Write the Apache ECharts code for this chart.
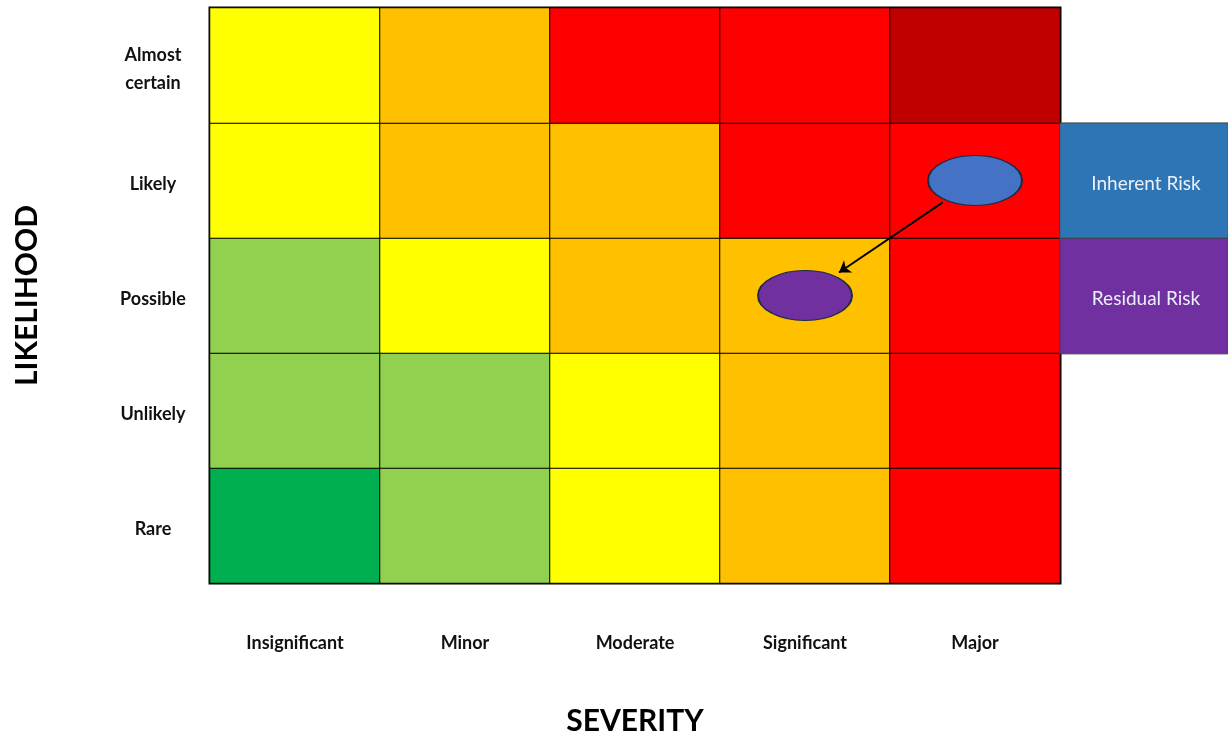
<!DOCTYPE html>
<html>
<head>
<meta charset="utf-8">
<script src="https://cdn.jsdelivr.net/npm/echarts@6/dist/echarts.min.js"></script>
<style>
html,body{margin:0;padding:0;background:#fff;}
#chart{width:1228px;height:741px;}
</style>
</head>
<body>
<div id="chart"></div>
<script>
// ---- data ----
const severityLabels = ['Insignificant', 'Minor', 'Moderate', 'Significant', 'Major'];
const likelihoodLabels = ['Rare', 'Unlikely', 'Possible', 'Likely', 'Almost certain'];
// risk level per cell (1 = lowest ... 6 = extreme), columns follow severityLabels
const rareLevels = [1, 2, 3, 4, 5];
const unlikelyLevels = [2, 2, 3, 4, 5];
const possibleLevels = [2, 3, 4, 4, 5];
const likelyLevels = [3, 4, 4, 5, 5];
const almostCertainLevels = [3, 4, 5, 5, 6];
const inherentRisk = ['Major', 'Likely'];
const residualRisk = ['Significant', 'Possible'];
const legendNames = ['Inherent Risk', 'Residual Risk'];

// ---- styling ----
const levelColors = {1: '#00B050', 2: '#92D050', 3: '#FFFF00', 4: '#FFC000', 5: '#FF0000', 6: '#C00000'};
const FONT = 'Lato, "Open Sans", sans-serif';

const levelRows = [rareLevels, unlikelyLevels, possibleLevels, likelyLevels, almostCertainLevels];
const heatData = [];
levelRows.forEach((row, r) => {
  row.forEach((lv, c) => {
    heatData.push({value: [c, r, lv], itemStyle: {color: levelColors[lv]}});
  });
});

const centerOf = p => [severityLabels.indexOf(p[0]) + 0.5, likelihoodLabels.indexOf(p[1]) + 0.5];
const a = centerOf(inherentRisk), b = centerOf(residualRisk);
const lerp = t => [a[0] + (b[0] - a[0]) * t, a[1] + (b[1] - a[1]) * t];
const arrowCoords = [lerp(0.19), lerp(0.8)];

const chart = echarts.init(document.getElementById('chart'));
chart.setOption({
  animation: false,
  backgroundColor: '#fff',
  grid: [
    {left: 210, top: 8, width: 850, height: 576, show: true, borderColor: '#000', borderWidth: 3, backgroundColor: 'transparent'},
    {left: 1060, top: 8, width: 168, height: 576, show: false}
  ],
  xAxis: [
    {type: 'category', gridIndex: 0, data: severityLabels,
     axisLine: {show: false}, axisTick: {show: false}, splitLine: {show: false},
     axisLabel: {margin: 51, fontSize: 18, fontWeight: 'bold', color: '#111', fontFamily: FONT},
     name: 'SEVERITY', nameLocation: 'middle', nameGap: 123,
     nameTextStyle: {fontSize: 30, fontWeight: 'bold', color: '#000', fontFamily: FONT}},
    {type: 'value', gridIndex: 0, min: 0, max: 5, show: false},
    {type: 'category', gridIndex: 1, data: ['legend'], show: false}
  ],
  yAxis: [
    {type: 'category', gridIndex: 0, data: likelihoodLabels,
     axisLine: {show: false}, axisTick: {show: false}, splitLine: {show: false},
     axisLabel: {margin: 57, align: 'center', color: '#111',
       formatter: v => v.split(' ').map(w => '{t|' + w + '}').join('\n'),
       rich: {t: {fontSize: 18, fontWeight: 'bold', color: '#111', fontFamily: FONT, lineHeight: 28, padding: [8, 0, 0, 0], align: 'center'}}},
     name: 'LIKELIHOOD', nameLocation: 'middle', nameGap: 168,
     nameTextStyle: {fontSize: 30, fontWeight: 'bold', color: '#000', fontFamily: FONT}},
    {type: 'value', gridIndex: 0, min: 0, max: 5, show: false},
    {type: 'category', gridIndex: 1, data: likelihoodLabels, show: false}
  ],
  series: [
    {type: 'heatmap', xAxisIndex: 0, yAxisIndex: 0, data: heatData,
     itemStyle: {borderColor: '#000', borderWidth: 1}, label: {show: false}, emphasis: {disabled: true}},
    {type: 'scatter', xAxisIndex: 0, yAxisIndex: 0, z: 5, symbol: 'circle', symbolSize: [94, 50],
     data: [{value: inherentRisk, itemStyle: {color: '#4472C4'}}, {value: residualRisk, itemStyle: {color: '#7030A0'}}],
     itemStyle: {borderColor: '#1F2A44', borderWidth: 1.5, opacity: 1}},
    {type: 'lines', coordinateSystem: 'cartesian2d', xAxisIndex: 1, yAxisIndex: 1, z: 6,
     symbol: ['none', 'arrow'], symbolSize: 11,
     lineStyle: {color: '#000', width: 2, opacity: 1, curveness: 0},
     data: [{coords: arrowCoords}]},
    {type: 'heatmap', xAxisIndex: 2, yAxisIndex: 2,
     data: [
       {name: legendNames[0], value: [0, likelihoodLabels.indexOf(inherentRisk[1]), 1], itemStyle: {color: '#2E75B6'}},
       {name: legendNames[1], value: [0, likelihoodLabels.indexOf(residualRisk[1]), 1], itemStyle: {color: '#7030A0'}}
     ],
     itemStyle: {borderColor: '#404040', borderWidth: 1},
     label: {show: true, formatter: p => p.name, color: '#EAF0FA', fontSize: 19, fontFamily: FONT, offset: [2, 3]},
     emphasis: {disabled: true}}
  ]
});
</script>
</body>
</html>
